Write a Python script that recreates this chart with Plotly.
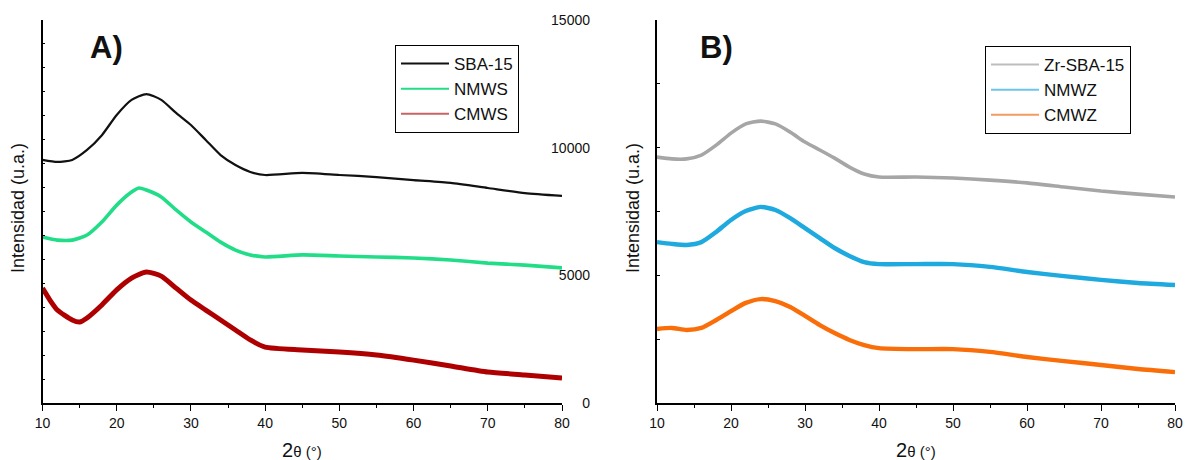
import plotly.graph_objects as go

# 2-theta positions (degrees) at which the diffractograms are sampled
two_theta = [10, 12, 14, 16, 18, 20, 22, 24, 26, 28, 30, 32, 34, 36, 38, 40,
             45, 50, 55, 60, 65, 70, 75, 80]
two_theta_nmws = [10, 12, 14, 16, 18, 20, 22, 23, 24, 26, 28, 30, 32, 34, 36, 38, 40,
                  45, 50, 55, 60, 65, 70, 75, 80]
two_theta_cmws = [10, 11, 12, 14, 15, 16, 18, 20, 22, 24, 26, 28, 30, 32, 34, 36, 38, 40,
                  45, 50, 55, 60, 65, 70, 75, 80]

# Panel A intensities (stacked, a.u.)
sba15 = [9520, 9440, 9520, 9910, 10490, 11280, 11870, 12100, 11870, 11360, 10890, 10300,
         9710, 9320, 9050, 8930, 9010, 8930, 8850, 8730, 8620, 8420, 8220, 8110]
nmws = [6500, 6380, 6380, 6580, 7090, 7750, 8260, 8420, 8340, 8070, 7560, 7090, 6700,
        6300, 5990, 5800, 5720, 5800, 5760, 5720, 5680, 5600, 5480, 5400, 5290]
cmws = [4500, 4030, 3640, 3250, 3170, 3330, 3840, 4430, 4890, 5130, 4970, 4500, 4030,
        3640, 3250, 2860, 2470, 2190, 2080, 2000, 1880, 1680, 1450, 1210, 1100, 980]

# Panel B intensities (stacked, a.u.)
zr_sba15 = [9630, 9560, 9560, 9710, 10100, 10570, 10930, 11040, 10930, 10610, 10220, 9910,
            9590, 9240, 8970, 8850, 8850, 8810, 8730, 8620, 8460, 8300, 8180, 8070]
nmwz = [6300, 6230, 6190, 6300, 6700, 7170, 7520, 7680, 7560, 7240, 6850, 6460,
        6070, 5760, 5520, 5440, 5440, 5440, 5330, 5130, 4970, 4820, 4700, 4620]
cmwz = [2900, 2940, 2860, 2940, 3250, 3600, 3920, 4070, 3990, 3760, 3410, 3050,
        2740, 2470, 2270, 2150, 2110, 2110, 2000, 1800, 1640, 1490, 1330, 1210]

right_ticks = [0, 5000, 10000, 15000]
right_tick_text = ["0", "5000", "10000", "15000"]
x_ticks = [10, 20, 30, 40, 50, 60, 70, 80]

FONT = "Arial, Liberation Sans, sans-serif"
W, H = 1186, 460


def px_x(p):
    return p / W


def px_y(p):
    return 1 - p / H


fig = go.Figure()

panel_a = [("SBA-15", two_theta, sba15, "#111111", 2.2),
           ("NMWS", two_theta_nmws, nmws, "#22DD88", 3.6),
           ("CMWS", two_theta_cmws, cmws, "#AE0000", 5)]
panel_b = [("Zr-SBA-15", two_theta, zr_sba15, "#A6A6A6", 3.6),
           ("NMWZ", two_theta, nmwz, "#1EA9DF", 4.4),
           ("CMWZ", two_theta, cmwz, "#FA6E0A", 4.4)]
legend_colors = {"CMWS": "#C86464", "CMWZ": "#F59A60", "NMWZ": "#6CC6EC",
                 "Zr-SBA-15": "#BDBDBD"}

for group, (xa, ya, lg) in ((panel_a, ("x", "y", "legend")),
                            (panel_b, ("x2", "y2", "legend2"))):
    for name, x, y, color, w in group:
        fig.add_trace(go.Scatter(x=x, y=y, name=name, mode="lines",
                                 line=dict(color=color, width=w, shape="spline",
                                           smoothing=0.6),
                                 xaxis=xa, yaxis=ya, showlegend=False))
    # legend entries with a thin key line
    for name, x, y, color, w in group:
        fig.add_trace(go.Scatter(x=[None], y=[None], name=name, mode="lines",
                                 line=dict(color=legend_colors.get(name, color), width=2),
                                 xaxis=xa, yaxis=ya, legend=lg, hoverinfo="skip"))

# carrier for the labelled intensity scale of panel A
fig.add_trace(go.Scatter(x=[None], y=[None], xaxis="x", yaxis="y3",
                         showlegend=False, hoverinfo="skip"))

y_dom = [px_y(403), px_y(20)]

xaxis_common = dict(range=[10, 80], tickvals=x_ticks, showline=True, linecolor="black",
                    linewidth=1.5, ticks="outside", ticklen=6, tickwidth=1.2,
                    tickcolor="black", minor=dict(dtick=5, ticks="outside", ticklen=3,
                                                  tickcolor="black", tickwidth=1.2),
                    showgrid=False, zeroline=False, automargin=False,
                    tickfont=dict(family=FONT, size=14, color="#111111"))
yaxis_common = dict(range=[0, 15000], showline=True, linecolor="black", linewidth=1.5,
                    ticks="inside", ticklen=3, tickcolor="black", tickwidth=1,
                    showticklabels=False, showgrid=False, zeroline=False,
                    automargin=False)

fig.update_layout(
    width=W, height=H,
    margin=dict(l=0, r=0, t=0, b=0),
    paper_bgcolor="white", plot_bgcolor="white",
    font=dict(family=FONT, color="#111111"),
    xaxis=dict(domain=[px_x(42.5), px_x(562)], anchor="y", **xaxis_common),
    xaxis2=dict(domain=[px_x(657), px_x(1175)], anchor="y2", **xaxis_common),
    yaxis=dict(domain=y_dom, anchor="x", dtick=15000 / 16, **yaxis_common),
    yaxis2=dict(domain=y_dom, anchor="x2", dtick=2500, **yaxis_common),
    yaxis3=dict(overlaying="y", anchor="free", position=px_x(590), side="left",
                range=[0, 15000], tickvals=right_ticks, ticktext=right_tick_text,
                showline=False, ticks="", showgrid=False, zeroline=False,
                automargin=False,
                tickfont=dict(family=FONT, size=14, color="#111111")),
    legend=dict(x=px_x(395), y=px_y(45), xanchor="left", yanchor="top",
                bordercolor="black", borderwidth=1, bgcolor="white",
                font=dict(family=FONT, size=17, color="#111111"),
                tracegroupgap=0, itemwidth=48),
    legend2=dict(x=px_x(985), y=px_y(46), xanchor="left", yanchor="top",
                 bordercolor="black", borderwidth=1, bgcolor="white",
                 font=dict(family=FONT, size=17, color="#111111"),
                 tracegroupgap=0, itemwidth=48),
    showlegend=True,
)

x_title = "2<span style='font-size:15px'>θ (°)</span>"
notes = [
    dict(x=px_x(106), y=px_y(48), text="<b>A)</b>", font=dict(size=31)),
    dict(x=px_x(716), y=px_y(48), text="<b>B)</b>", font=dict(size=31)),
    dict(x=px_x(302), y=px_y(450), text=x_title, font=dict(size=20)),
    dict(x=px_x(916), y=px_y(450), text=x_title, font=dict(size=20)),
    dict(x=px_x(18), y=px_y(208), text="Intensidad (u.a.)", textangle=-90,
         font=dict(size=18)),
    dict(x=px_x(633), y=px_y(208), text="Intensidad (u.a.)", textangle=-90,
         font=dict(size=18)),
]
for n in notes:
    fig.add_annotation(xref="paper", yref="paper", showarrow=False,
                       xanchor="center", yanchor="middle",
                       font=dict(family=FONT, color="#111111", **n.pop("font")), **n)

fig.write_html("out.html")
